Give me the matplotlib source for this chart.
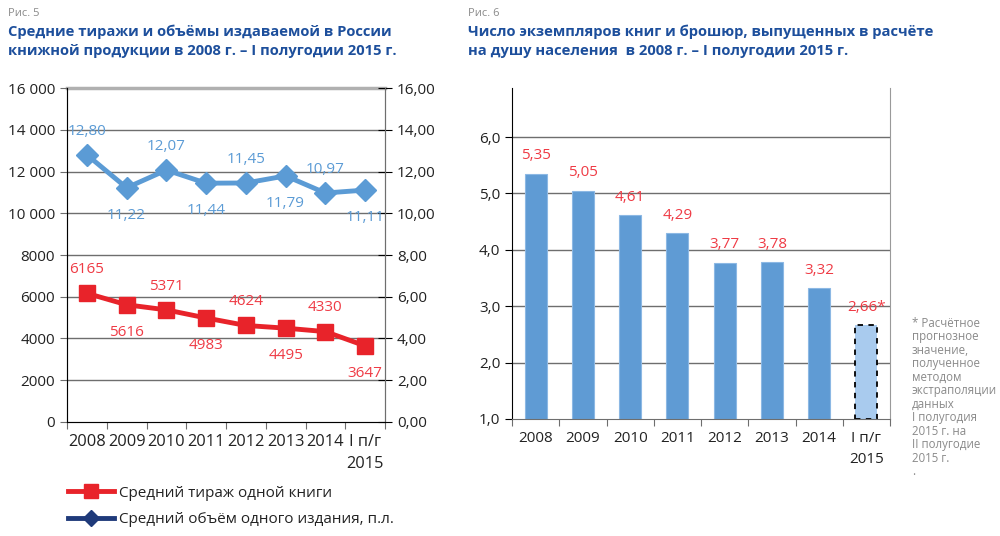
import numpy as np
import matplotlib.pyplot as plt
from matplotlib.lines import Line2D

plt.rcParams['font.family'] = ['Open Sans', 'DejaVu Sans']

years = ['2008', '2009', '2010', '2011', '2012', '2013', '2014', 'I п/г\n2015']
tirazh = [6165, 5616, 5371, 4983, 4624, 4495, 4330, 3647]
obem = [12.80, 11.22, 12.07, 11.44, 11.45, 11.79, 10.97, 11.11]
per_capita = [5.35, 5.05, 4.61, 4.29, 3.77, 3.78, 3.32, 2.66]

red = '#e8232a'
red_txt = '#ef3b45'
blue = '#5b9bd5'
navy = '#1f3a7a'
title_c = '#1d4f9c'
grid_c = '#6e6e6e'
tick_c = '#222222'

fig = plt.figure(figsize=(10, 5.36), dpi=100)
x = np.arange(len(years))


def cat_axis(ax, fs):
    ax.set_xlim(-0.5, len(years) - 0.5)
    ax.set_xticks(np.arange(-0.5, len(years)))
    ax.set_xticklabels([])
    ax.set_xticks(x, minor=True)
    ax.set_xticklabels(years, minor=True, fontsize=fs, color=tick_c, linespacing=1.5)
    ax.tick_params(axis='x', which='major', direction='out', length=5, color=grid_c)
    ax.tick_params(axis='x', which='minor', length=0, pad=9)


# ---- Рис. 5 ----
ax1 = fig.add_axes([0.067, 0.2127, 0.318, 0.6231])
ax1.set_ylim(0, 16000)
ax1.set_yticks(np.arange(0, 16001, 2000))
ax1.set_yticklabels(['0', '2000', '4000', '6000', '8000', '10 000', '12 000', '14 000', '16 000'],
                    fontsize=11, color=tick_c)
ax1.tick_params(axis='y', direction='out', length=5, color=grid_c)
for v in range(2000, 16000, 2000):
    ax1.axhline(v, color=grid_c, lw=1, zorder=0)
ax1.axhline(16000, color='#b0b0b0', lw=2.5, zorder=0, clip_on=False)
cat_axis(ax1, 11.8)
for s in ['left', 'right', 'bottom']:
    ax1.spines[s].set_color(grid_c)
ax1.spines['top'].set_visible(False)

ax1.plot(x, tirazh, color=red, lw=3.5, marker='s', ms=12, zorder=3)
for i, v in enumerate(tirazh):
    dy = 17 if i % 2 == 0 else -20
    ax1.annotate(str(v), (i, v), xytext=(0, dy), textcoords='offset points',
                 ha='center', va='center', color=red_txt, fontsize=11)

ax2 = ax1.twinx()
ax2.set_ylim(0, 16)
ax2.set_yticks(np.arange(0, 16.1, 2))
ax2.set_yticklabels([f'{v:.2f}'.replace('.', ',') for v in np.arange(0, 16.1, 2)],
                    fontsize=11, color=tick_c)
ax2.tick_params(axis='y', direction='inout', length=10, color='black')
ax2.spines['right'].set_color(grid_c)
ax2.spines['top'].set_visible(False)
ax2.plot(x, obem, color=blue, lw=3.5, marker='D', ms=11, zorder=3)
for i, v in enumerate(obem):
    dy = 17 if i % 2 == 0 else -20
    ax2.annotate(f'{v:.2f}'.replace('.', ','), (i, v), xytext=(0, dy), textcoords='offset points',
                 ha='center', va='center', color=blue, fontsize=11)

fig.text(0.008, 0.975, 'Рис. 5', fontsize=8, color='#8a8a8a', va='center')
fig.text(0.008, 0.955, 'Средние тиражи и объёмы издаваемой в России\nкнижной продукции в 2008 г. – I полугодии 2015 г.',
         fontsize=10.6, fontweight='bold', color=title_c, linespacing=1.5, va='top')

handles = [Line2D([], [], color=red, lw=3.5, marker='s', ms=10),
           Line2D([], [], color=navy, lw=3.5, marker='D', ms=8)]
fig.legend(handles, ['Средний тираж одной книги', 'Средний объём одного издания, п.л.'],
           loc='upper left', bbox_to_anchor=(0.062, 0.105), frameon=False,
           fontsize=11, handlelength=3, handletextpad=0.3, labelspacing=0.75,
           labelcolor=tick_c, borderaxespad=0)

# ---- Рис. 6 ----
ax3 = fig.add_axes([0.512, 0.2183, 0.378, 0.6175])
ax3.set_ylim(1, 6.87)
ax3.set_yticks(np.arange(1, 6.1, 1))
ax3.set_yticklabels([f'{v:.1f}'.replace('.', ',') for v in np.arange(1, 6.1, 1)],
                    fontsize=11, color=tick_c)
ax3.tick_params(axis='y', direction='out', length=5, color='black')
for v in range(2, 7):
    ax3.axhline(v, color=grid_c, lw=1, zorder=0)
cat_axis(ax3, 11)
ax3.spines['top'].set_visible(False)
ax3.spines['left'].set_color('black')
ax3.spines['bottom'].set_color(grid_c)
ax3.spines['right'].set_color('#9a9a9a')

ax3.bar(x[:-1], np.array(per_capita[:-1]) - 1, bottom=1, width=0.47, color='#5f9bd4',
        edgecolor='#8cb8e4', lw=0.8, zorder=2)
ax3.bar(x[-1], per_capita[-1] - 1, bottom=1, width=0.47, color='#a9cbee',
        edgecolor='black', lw=1.3, ls=(0, (3, 3)), zorder=2)
for i, v in enumerate(per_capita):
    lbl = f'{v:.2f}'.replace('.', ',')
    if i == len(per_capita) - 1:
        lbl += '*'
    ax3.annotate(lbl, (i, v), xytext=(0, 13), textcoords='offset points',
                 ha='center', va='center', color=red_txt, fontsize=11)

fig.text(0.468, 0.975, 'Рис. 6', fontsize=8, color='#8a8a8a', va='center')
fig.text(0.468, 0.955, 'Число экземпляров книг и брошюр, выпущенных в расчёте\nна душу населения  в 2008 г. – I полугодии 2015 г.',
         fontsize=10.6, fontweight='bold', color=title_c, linespacing=1.5, va='top')

fig.text(0.912, 0.258, '* Расчётное\nпрогнозное\nзначение,\nполученное\nметодом\nэкстраполяции\nданных\nI полугодия\n2015 г. на\nII полугодие\n2015 г.\n.',
         fontsize=8.3, color='#8a8a8a', va='center', linespacing=1.05)

fig.savefig('out.png', dpi=100)
